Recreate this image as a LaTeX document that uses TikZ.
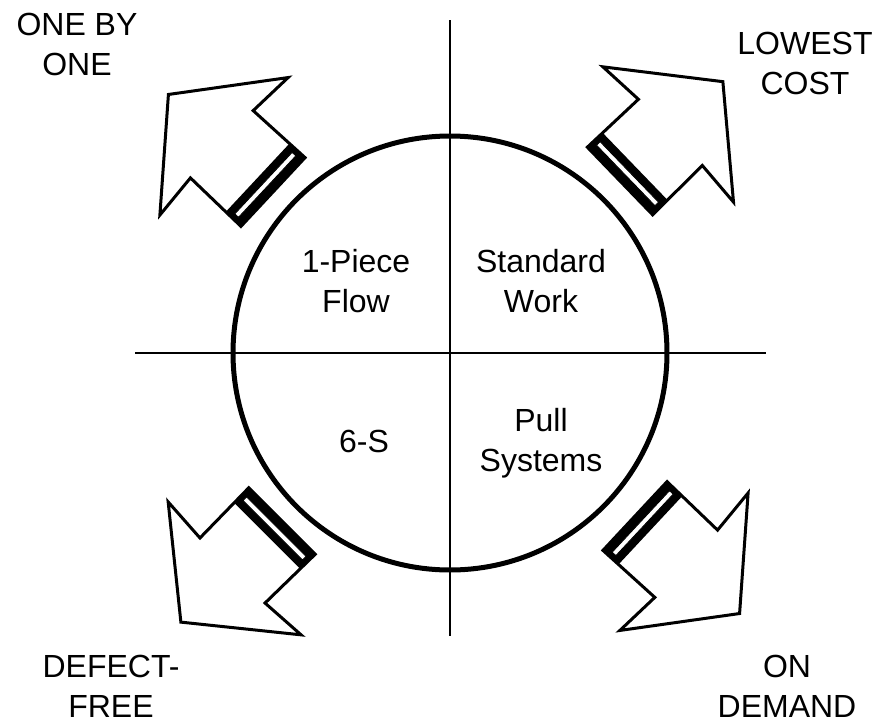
\documentclass[tikz,border=0pt]{standalone}
\usepackage{fontspec}
\setmainfont{Liberation Sans}
\usetikzlibrary{positioning}

\begin{document}
\begin{tikzpicture}[x=1pt, y=1pt,
  lbl/.style={font=\fontsize{32}{40}\selectfont, align=center, inner sep=0pt},
  hubline/.style={line width=1.5pt},
  fatarrow/.pic={
    \draw[line width=3pt, fill=white, line join=miter]
      (0,-47) -- (70,-46) -- (67,-94) -- (143,0) -- (67,94) -- (70,46) -- (0,47) -- cycle;
    \fill (0,-47) rectangle (21,47);
    \draw[line width=0.8pt, fill=white] (8,-42) rectangle (13,42);
  }
]
\useasboundingbox (0,0) rectangle (881,-723);

% Hub
\coordinate (vtop) at (450,-20);
\coordinate (vbot) at (450,-636);
\coordinate (hleft) at (135,-353);
\coordinate (hright) at (766,-353);
\draw[hubline] (vtop) -- (vbot);
\draw[hubline] (hleft) -- (hright);
\node[draw, circle, line width=5pt, minimum size=434pt, inner sep=0pt] (hub) at (450,-353) {};

% Quadrants
\node[lbl] (piece) at (356,-281) {1-Piece\\Flow};
\node[lbl] (std) at (541,-281) {Standard\\Work};
\node[lbl] (six) at (364,-441) {6-S};
\node[lbl] (pull) at (541,-443) {Pull\\Systems};

% Arrows
\pic[rotate=137] at (273,-192) {fatarrow};
\pic[rotate=44] at (620,-181) {fatarrow};
\pic[rotate=225] at (282,-521) {fatarrow};
\pic[rotate=-43] at (635,-516) {fatarrow};

% Goals
\node[lbl] (onebyone) at (77,-44) {ONE BY\\ONE};
\node[lbl] (lowest) at (805,-63) {LOWEST\\COST};
\node[lbl] (defect) at (111,-686) {DEFECT-\\FREE};
\node[lbl] (demand) at (787,-686) {ON\\DEMAND};

\end{tikzpicture}
\end{document}
